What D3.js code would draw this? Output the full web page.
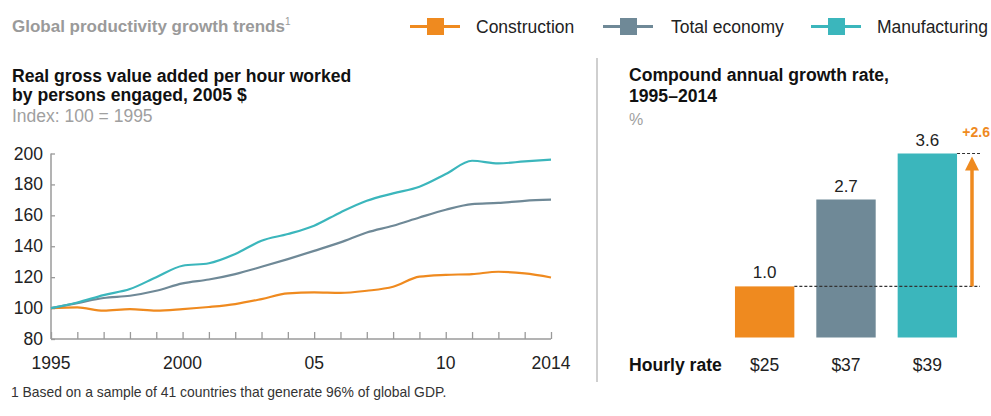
<!DOCTYPE html>
<html><head><meta charset="utf-8">
<script src="https://cdn.jsdelivr.net/npm/d3@7"></script>
<style>
html,body{margin:0;padding:0;background:#fff;}
svg{display:block;font-family:"Liberation Sans",Arial,sans-serif;}
</style></head>
<body><svg id="c" width="991" height="416"></svg>
<script>
const years = [1995,1996,1997,1998,1999,2000,2001,2002,2003,2004,2005,2006,2007,2008,2009,2010,2011,2012,2013,2014];
const construction = [100,100.4,98.3,99.3,98.3,99.3,100.7,102.6,105.8,109.5,110.1,109.8,111.2,113.8,120.3,121.5,122,123.5,122.4,119.8];
const totalEconomy = [100,103.2,106.5,108,111.2,116,118.5,122,126.7,131.7,137,142.5,148.9,153.3,158.6,163.6,167.3,168,169.4,170.1];
const manufacturing = [100,103.6,108.4,112.3,120,127.4,129,135,143.6,147.9,153.3,161.9,169.4,174.2,178.5,186.7,195.3,193.6,194.9,196];
const yTicks = [80,100,120,140,160,180,200];
const xTickLabels = [[1995,"1995"],[2000,"2000"],[2005,"05"],[2010,"10"],[2014,"2014"]];
const seriesNames = ["Construction","Total economy","Manufacturing"];
const colors = ["#EF8A1F","#6F8997","#3BB6BC"];
const cagr = [1.0,2.7,3.6];
const hourly = ["$25","$37","$39"];
const diffLabel = "+2.6";

const svg = d3.select("#c");
const txt = "#222";
const FS = 17.5;

// Header
svg.append("text").attr("x",12).attr("y",32).attr("font-size",17).attr("font-weight","bold").attr("fill","#9a9a9a")
  .text("Global productivity growth trends").append("tspan").attr("font-size",10).attr("dy",-7).attr("font-weight","normal").text("1");

// Legend
const legX = [[410,476],[603,671],[811,877]];
seriesNames.forEach((n,i)=>{
  const g = svg.append("g");
  g.append("line").attr("x1",legX[i][0]).attr("x2",legX[i][0]+50).attr("y1",26.5).attr("y2",26.5).attr("stroke",colors[i]).attr("stroke-width",3);
  g.append("rect").attr("x",legX[i][0]+17).attr("y",18).attr("width",17).attr("height",17).attr("fill",colors[i]);
  g.append("text").attr("x",legX[i][1]).attr("y",33).attr("font-size",FS).attr("fill",txt).text(n);
});

// Left panel titles
svg.append("text").attr("x",12).attr("y",82).attr("font-size",17.6).attr("font-weight","bold").attr("fill","#111").text("Real gross value added per hour worked");
svg.append("text").attr("x",12).attr("y",101).attr("font-size",17.6).attr("font-weight","bold").attr("fill","#111").text("by persons engaged, 2005 $");
svg.append("text").attr("x",12).attr("y",122).attr("font-size",17.5).attr("fill","#a0a0a0").text("Index: 100 = 1995");

// Line chart
const x = d3.scaleLinear().domain([1995,2014]).range([51,551]);
const y = d3.scaleLinear().domain([80,200]).range([339,153.5]);
const axisCol = "#9a9a9a";
const gx = svg.append("g").attr("transform","translate(0,339)")
  .call(d3.axisTop(x).tickValues(years).tickSize(7).tickFormat(""));
gx.select(".domain").attr("stroke",axisCol).attr("stroke-width",1.5).attr("d","M51,0H551");
gx.selectAll(".tick line").attr("stroke",axisCol).attr("stroke-width",1.3);
svg.append("g").selectAll("text").data(xTickLabels).join("text")
  .attr("x",d=>x(d[0])).attr("y",369).attr("text-anchor","middle").attr("font-size",17.5).attr("fill",txt).text(d=>d[1]);

const gy = svg.append("g").attr("transform","translate(51,0)")
  .call(d3.axisRight(y).tickValues(yTicks).tickSize(4).tickFormat(""));
gy.select(".domain").attr("stroke",axisCol).attr("stroke-width",1.5).attr("d","M0,153.5V339");
gy.selectAll(".tick line").attr("stroke",axisCol).attr("stroke-width",1.3);
svg.append("g").selectAll("text").data(yTicks).join("text")
  .attr("x",43).attr("y",d=>y(d)+6).attr("text-anchor","end").attr("font-size",17.5).attr("fill",txt).text(d=>d);

const line = d3.line().x((d,i)=>x(years[i])).y(d=>y(d)).curve(d3.curveMonotoneX);
[construction,totalEconomy,manufacturing].forEach((s,i)=>{
  svg.append("path").attr("d",line(s)).attr("fill","none").attr("stroke",colors[i]).attr("stroke-width",2.2);
});

// Divider
svg.append("line").attr("x1",597).attr("x2",597).attr("y1",58).attr("y2",382).attr("stroke","#cfcfcf").attr("stroke-width",2);

// Right panel titles
svg.append("text").attr("x",629).attr("y",81).attr("font-size",17.6).attr("font-weight","bold").attr("fill","#111").text("Compound annual growth rate,");
svg.append("text").attr("x",629).attr("y",102).attr("font-size",17.6).attr("font-weight","bold").attr("fill","#111").text("1995–2014");
svg.append("text").attr("x",629).attr("y",125).attr("font-size",16).attr("fill","#a0a0a0").text("%");

// Bars
const bx = d3.scaleBand().domain(seriesNames).range([713,979]).paddingInner(0.27).paddingOuter(0.27);
const by = d3.scaleLinear().domain([0,3.6]).range([337.5,153.5]);
svg.append("g").selectAll("rect").data(cagr).join("rect")
  .attr("x",(d,i)=>bx(seriesNames[i])).attr("width",bx.bandwidth())
  .attr("y",d=>by(d)).attr("height",d=>by(0)-by(d)).attr("fill",(d,i)=>colors[i]);
svg.append("g").selectAll("text").data(cagr).join("text")
  .attr("x",(d,i)=>bx(seriesNames[i])+bx.bandwidth()/2).attr("y",d=>by(d)-8)
  .attr("text-anchor","middle").attr("font-size",17).attr("fill",txt).text(d=>d.toFixed(1));

// Dashed reference lines
const xEnd = 980;
svg.append("line").attr("x1",bx(seriesNames[0])+bx.bandwidth()).attr("x2",xEnd)
  .attr("y1",by(cagr[0])).attr("y2",by(cagr[0])).attr("stroke","#333").attr("stroke-width",1.2).attr("stroke-dasharray","3,2");
svg.append("line").attr("x1",bx(seriesNames[2])+bx.bandwidth()).attr("x2",xEnd)
  .attr("y1",by(cagr[2])).attr("y2",by(cagr[2])).attr("stroke","#333").attr("stroke-width",1.2).attr("stroke-dasharray","3,2");

// Arrow
const ax = 972;
const orange = colors[0];
svg.append("line").attr("x1",ax).attr("x2",ax).attr("y1",by(cagr[0])).attr("y2",by(cagr[2])+14)
  .attr("stroke",orange).attr("stroke-width",3.5);
svg.append("path").attr("d",`M${ax-7},${by(cagr[2])+17}L${ax},${by(cagr[2])+3}L${ax+7},${by(cagr[2])+17}Z`).attr("fill",orange);
svg.append("text").attr("x",990).attr("y",by(cagr[2])-17).attr("text-anchor","end").attr("font-size",14).attr("font-weight","bold").attr("fill",orange).text(diffLabel);

// Hourly rate row
svg.append("text").attr("x",629).attr("y",371).attr("font-size",17.6).attr("font-weight","bold").attr("fill","#111").text("Hourly rate");
svg.append("g").selectAll("text").data(hourly).join("text")
  .attr("x",(d,i)=>bx(seriesNames[i])+bx.bandwidth()/2).attr("y",371).attr("text-anchor","middle")
  .attr("font-size",17.5).attr("fill",txt).text(d=>d);

// Footnote
svg.append("text").attr("x",11).attr("y",397).attr("font-size",13.9).attr("fill","#333")
  .text("1  Based on a sample of 41 countries that generate 96% of global GDP.");
</script></body></html>
